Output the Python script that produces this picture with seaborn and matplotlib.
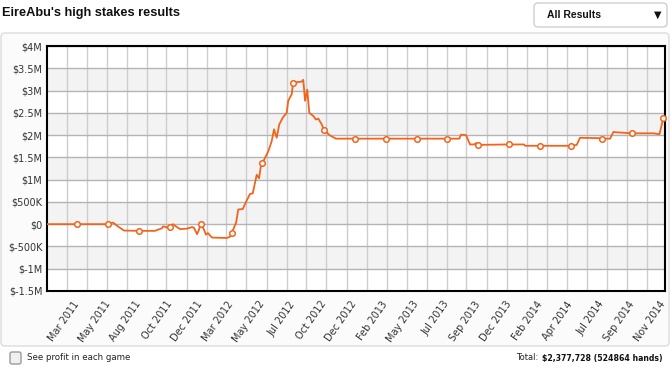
import numpy as np
import matplotlib
matplotlib.use("Agg")
import matplotlib.pyplot as plt
import seaborn as sns
from matplotlib.patches import FancyBboxPatch
from matplotlib.transforms import IdentityTransform

# cumulative profit ($K) against hands played (thousands)
hands_k = [0, 26.2, 52.5, 56.6, 60.9, 66.0, 78.7, 92.3, 98.3, 99.1, 102.5, 105.0,
           107.6, 111.0, 113.6, 119.6, 123.8, 125.5, 128.1, 129.8, 131.2, 134.0,
           135.7, 137.4, 140.8, 153.6, 156.2, 157.5, 161.3, 163.2, 167.0, 169.8,
           173.2, 175.5, 178.9, 180.9, 182.3, 183.7, 188.8, 191.6, 193.6, 195.9,
           198.1, 201.0, 204.4, 205.7, 208.7, 209.9, 217.2, 218.5, 220.0, 221.9,
           223.6, 227.0, 229.3, 231.3, 234.2, 236.2, 241.3, 246.4, 262.4, 288.7,
           314.9, 341.2, 351.3, 352.7, 357.0, 360.4, 364.0, 365.5, 367.4, 393.6,
           406.4, 407.2, 419.9, 446.1, 451.2, 454.0, 471.1, 472.4, 479.6, 482.4,
           486.3, 498.6, 516.5, 521.6, 524.9]
profit_k = [0, 0, 0, 37, -52, -143, -150, -150, -90, -50, -70, -65,
            0, -65, -110, -100, -65, -80, -225, -120, 10, -120,
            -235, -200, -300, -310, -280, -205, 30, 330, 340, 500,
            680, 690, 1110, 1030, 1280, 1370, 1640, 1860, 2130, 1940,
            2240, 2390, 2500, 2770, 2920, 3180, 3200, 3240, 2770, 3020,
            2500, 2430, 2350, 2370, 2240, 2110, 1990, 1920, 1920, 1920,
            1920, 1920, 1920, 2010, 2000, 1790, 1790, 1820, 1780, 1790,
            1790, 1760, 1760, 1760, 1780, 1940, 1930, 1920, 1920, 2070,
            2060, 2040, 2040, 2020, 2378]

# dated sessions shown as open circles
tick_hands_k = [26.2, 52.5, 78.7, 105.0, 131.2, 157.5, 183.7, 209.9, 236.2, 262.4,
                288.7, 314.9, 341.2, 367.4, 393.6, 419.9, 446.1, 472.4, 498.6, 524.9]
tick_profit_k = [0, 0, -150, -65, 10, -205, 1370, 3180, 2110, 1920,
                 1920, 1920, 1920, 1780, 1790, 1760, 1760, 1920, 2040, 2378]
tick_labels = ["Mar 2011", "May 2011", "Aug 2011", "Oct 2011", "Dec 2011",
               "Mar 2012", "May 2012", "Jul 2012", "Oct 2012", "Dec 2012",
               "Feb 2013", "May 2013", "Jul 2013", "Sep 2013", "Dec 2013",
               "Feb 2014", "Apr 2014", "Jul 2014", "Sep 2014", "Nov 2014"]

y_ticks_k = [4000, 3500, 3000, 2500, 2000, 1500, 1000, 500, 0, -500, -1000, -1500]
y_tick_labels = ["$4M", "$3.5M", "$3M", "$2.5M", "$2M", "$1.5M", "$1M", "$500K",
                 "$0", "$-500K", "$-1M", "$-1.5M"]

total_profit = "$2,377,728"
total_hands = 524864

W, H = 670, 370
LINE = "#f2641c"

sns.set_style("white")
plt.rcParams["font.family"] = ["DejaVu Sans"]

fig = plt.figure(figsize=(W / 100, H / 100), dpi=100)
fig.patch.set_facecolor("white")


def px(x, y):
    return x / W, 1 - y / H


def box(x0, y0, x1, y1, **kw):
    p = FancyBboxPatch((x0, H - y1), x1 - x0, y1 - y0, transform=IdentityTransform(),
                       zorder=-5, **kw)
    fig.add_artist(p)


# page furniture
box(1, 33, 669, 346, boxstyle="round,pad=0,rounding_size=4", fc="#fbfbfb", ec="#dcdcdc", lw=1)
box(534, 3, 667, 27, boxstyle="round,pad=0,rounding_size=4", fc="white", ec="#cfcfcf", lw=1)
box(10, 352, 21, 364, boxstyle="round,pad=0,rounding_size=2", fc="#f0f0f0", ec="#9a9a9a", lw=1)

fig.text(*px(2, 13), "EireAbu's high stakes results", family="Liberation Sans",
         weight="bold", fontsize=9.2, va="center", ha="left", color="#111111")
fig.text(*px(547, 15), "All Results", family="Liberation Sans", weight="bold",
         fontsize=7.5, va="center", ha="left", color="#111111")
fig.text(*px(658, 15), "\u25bc", fontsize=7, va="center", ha="center", color="#111111")
fig.text(*px(27, 358), "See profit in each game", fontsize=6.2, va="center", ha="left",
         color="#222222")
bold = fig.text(*px(662, 358), f"{total_profit} ({total_hands} hands)", fontsize=5.6,
                weight="bold", va="center", ha="right", color="#111111")
fig.canvas.draw()
bx = bold.get_window_extent().x0
fig.text(bx - 3, H - 358, "Total:", fontsize=6, va="center", ha="right",
         color="#222222", transform=IdentityTransform())

# chart
ax = fig.add_axes([46.5 / W, 1 - 291 / H, (664.5 - 46.5) / W, (291 - 46) / H])
ax.set_zorder(2)
ax.set_facecolor("white")
xmax = 525.9
ax.set_xlim(0, xmax)
ax.set_ylim(-1500, 4000)

for lo in (-1000, 0, 1000, 2000, 3000):
    ax.axhspan(lo, lo + 500, color="#f3f3f3", zorder=0, lw=0)

ax.set_yticks(y_ticks_k)
ax.set_yticklabels(y_tick_labels)
ax.set_xticks(tick_hands_k)
ax.set_xticklabels(tick_labels, rotation=55, ha="right", va="center",
                   rotation_mode="anchor")
step = xmax * 20 / 618
ax.set_xticks(np.arange(step, xmax, step), minor=True)
ax.grid(axis="y", which="major", color="#b4b4b4", lw=1, zorder=1)
ax.grid(axis="x", which="minor", color="#cdcdcd", lw=1, zorder=1)
ax.grid(axis="x", which="major", visible=False)
ax.set_axisbelow(True)
ax.tick_params(axis="both", which="both", length=0, labelsize=7, colors="#333333")
ax.tick_params(axis="x", pad=8)
ax.tick_params(axis="y", pad=3)

sns.lineplot(x=hands_k, y=profit_k, ax=ax, color=LINE, lw=1.3, zorder=3,
             estimator=None, sort=False)
sns.scatterplot(x=tick_hands_k, y=tick_profit_k, ax=ax, s=16, color="white",
                edgecolor=LINE, linewidth=1.1, zorder=4, clip_on=False)

for s in ax.spines.values():
    s.set_visible(True)
    s.set_color("black")
    s.set_linewidth(1.5)
ax.set_xlabel("")
ax.set_ylabel("")

fig.savefig("out.png", dpi=100, facecolor=fig.get_facecolor())
